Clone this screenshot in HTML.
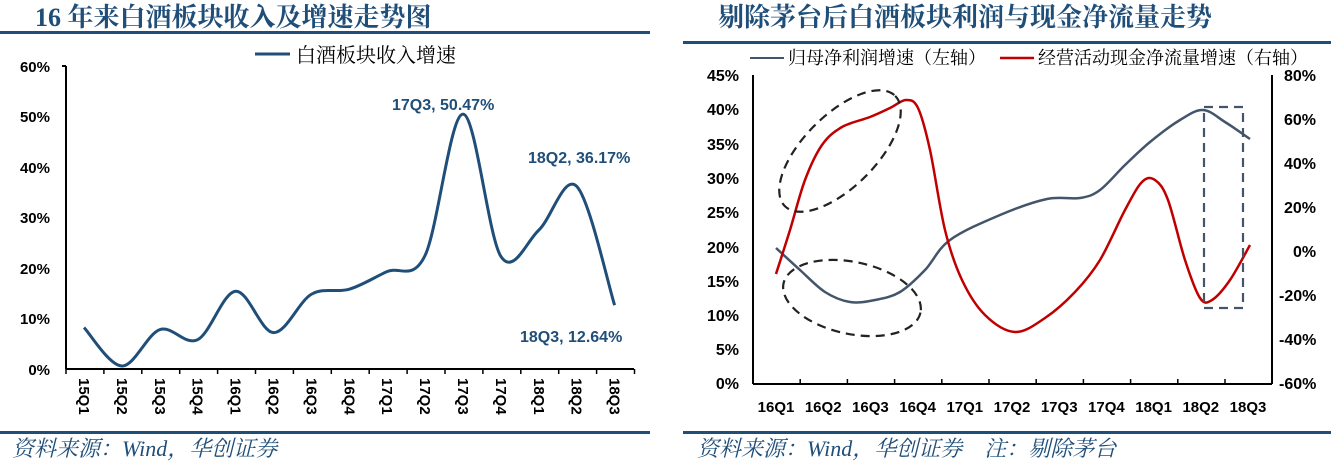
<!DOCTYPE html>
<html><head><meta charset="utf-8"><style>
body{margin:0;background:#fff;width:1331px;height:464px;overflow:hidden}
svg{display:block}
</style></head><body>
<svg width="1331" height="464" xmlns="http://www.w3.org/2000/svg" font-family="Liberation Sans, Noto Sans CJK SC, sans-serif">
<!-- LEFT -->
<text x="35" y="26" font-family="Liberation Serif, Noto Serif CJK SC, serif" font-weight="bold" font-size="26" fill="#1f4e79">16 年来白酒板块收入及增速走势图</text>
<rect x="0" y="31" width="650" height="3" fill="#1f4e79"/>
<line x1="255" y1="54" x2="290" y2="54" stroke="#1f4e79" stroke-width="3"/>
<text x="296" y="62" font-size="20" font-family="Noto Serif CJK SC, serif" fill="#000">白酒板块收入增速</text>
<g font-size="15" font-weight="bold" text-anchor="end">
<text x="50" y="72">60%</text><text x="50" y="122">50%</text><text x="50" y="173">40%</text><text x="50" y="223">30%</text><text x="50" y="274">20%</text><text x="50" y="324">10%</text><text x="50" y="375">0%</text>
</g>
<line x1="66" y1="66" x2="66" y2="369" stroke="#000" stroke-width="2"/>
<line x1="62" y1="66" x2="66" y2="66" stroke="#000" stroke-width="2"/>
<line x1="66" y1="369" x2="634" y2="369" stroke="#000" stroke-width="2"/>
<g id="lt" stroke="#000" stroke-width="1.5"></g>
<g id="lx" font-size="15" font-weight="bold"></g>
<path id="lp" fill="none" stroke="#1f4e79" stroke-width="3"/>
<g font-size="16" font-weight="bold" fill="#1f4e79">
<text x="392" y="110">17Q3, 50.47%</text>
<text x="528" y="163">18Q2, 36.17%</text>
<text x="520" y="342">18Q3, 12.64%</text>
</g>
<rect x="0" y="431" width="650" height="3" fill="#1f4e79"/>
<text x="12" y="456" font-family="Liberation Serif, Noto Serif CJK SC, serif" font-style="italic" font-size="22" fill="#1f4e79">资料来源：Wind，华创证券</text>

<!-- RIGHT -->
<text x="718" y="26" font-family="Liberation Serif, Noto Serif CJK SC, serif" font-weight="bold" font-size="26" fill="#1f4e79">剔除茅台后白酒板块利润与现金净流量走势</text>
<rect x="683" y="41" width="648" height="3" fill="#1f4e79"/>
<line x1="750" y1="58" x2="784" y2="58" stroke="#44546a" stroke-width="2"/>
<text x="788" y="64" font-size="18" font-family="Noto Serif CJK SC, serif">归母净利润增速（左轴）</text>
<line x1="1000" y1="58" x2="1034" y2="58" stroke="#c00000" stroke-width="2.5"/>
<text x="1038" y="64" font-size="18" font-family="Noto Serif CJK SC, serif">经营活动现金净流量增速（右轴）</text>
<g font-size="16" font-weight="bold" text-anchor="end">
<text x="739" y="81">45%</text><text x="739" y="115">40%</text><text x="739" y="150">35%</text><text x="739" y="184">30%</text><text x="739" y="218">25%</text><text x="739" y="253">20%</text><text x="739" y="287">15%</text><text x="739" y="321">10%</text><text x="739" y="355">5%</text><text x="739" y="389">0%</text>
</g>
<g font-size="16" font-weight="bold">
<text x="1284" y="81">80%</text><text x="1284" y="125">60%</text><text x="1284" y="169">40%</text><text x="1284" y="213">20%</text><text x="1293" y="257">0%</text><text x="1279" y="301">-20%</text><text x="1279" y="345">-40%</text><text x="1279" y="389">-60%</text>
</g>
<line x1="753" y1="75" x2="753" y2="384" stroke="#000" stroke-width="2"/>
<line x1="1272" y1="75" x2="1272" y2="384" stroke="#000" stroke-width="2"/>
<line x1="753" y1="384" x2="1272" y2="384" stroke="#000" stroke-width="2"/>
<g id="rt" stroke="#000" stroke-width="1.5"></g>
<g id="rx" font-size="15" font-weight="bold" text-anchor="middle"></g>
<path id="gp" fill="none" stroke="#44546a" stroke-width="2.5"/>
<path id="rp" fill="none" stroke="#c00000" stroke-width="2.5"/>
<g fill="none" stroke="#222" stroke-width="2.2" stroke-dasharray="9,6">
<ellipse cx="840" cy="151" rx="78" ry="36" transform="rotate(-45 840 151)"/>
<ellipse cx="852" cy="298" rx="70" ry="36" transform="rotate(12 852 298)"/>
<rect x="1204" y="107" width="39" height="201" stroke="#44546a"/>
</g>
<rect x="683" y="431" width="648" height="3" fill="#1f4e79"/>
<text x="697" y="456" font-family="Liberation Serif, Noto Serif CJK SC, serif" font-style="italic" font-size="22" fill="#1f4e79">资料来源：Wind，华创证券　注：剔除茅台</text>
</svg>
<script>
function cr(p){let d="M"+p[0][0]+","+p[0][1];for(let i=0;i<p.length-1;i++){const a=p[i-1]||p[i],b=p[i],c=p[i+1],e=p[i+2]||c;d+=" C"+(b[0]+(c[0]-a[0])/6)+","+(b[1]+(c[1]-a[1])/6)+" "+(c[0]-(e[0]-b[0])/6)+","+(c[1]-(e[1]-b[1])/6)+" "+c[0]+","+c[1];}return d;}
const NS="http://www.w3.org/2000/svg";
function el(t,a,txt,par){const e=document.createElementNS(NS,t);for(const k in a)e.setAttribute(k,a[k]);if(txt)e.textContent=txt;document.getElementById(par).appendChild(e);}
const lc=["15Q1","15Q2","15Q3","15Q4","16Q1","16Q2","16Q3","16Q4","17Q1","17Q2","17Q3","17Q4","18Q1","18Q2","18Q3"];
const sp=37.9;
for(let i=0;i<=15;i++){const x=66+i*sp;el("line",{x1:x,y1:369,x2:x,y2:374},"","lt");}
lc.forEach((c,i)=>{const x=84+i*sp;el("text",{x:x-5,y:378,transform:"rotate(90 "+(x-5)+" 378)"},c,"lx");});
const lv=[8.2,0.6,7.8,5.8,15.4,7.2,14.8,15.8,19.3,22.5,50.47,22.3,27.5,36.17,12.64];
document.getElementById("lp").setAttribute("d",cr(lv.map((v,i)=>[84+i*sp,369-v*5.05])));
const rc=["16Q1","16Q2","16Q3","16Q4","17Q1","17Q2","17Q3","17Q4","18Q1","18Q2","18Q3"];
const rs=47.2;
for(let i=1;i<11;i++){const x=753+i*rs;el("line",{x1:x,y1:384,x2:x,y2:379},"","rt");}
rc.forEach((c,i)=>{el("text",{x:776+i*rs,y:412},c,"rx");});
const g=[[776,248],[800,270],[825,292],[850,302],[875,300],[900,292],[925,270],[950,240],[1000,215],[1047,199],[1080,198],[1100,190],[1125,165],[1150,142],[1180,120],[1203,110],[1225,122],[1250,139]];
document.getElementById("gp").setAttribute("d",cr(g));
const r=[[776,274],[790,230],[805,180],[822,145],[842,127],[870,117],[890,108],[906,100],[918,108],[930,150],[945,230],[962,280],[985,315],[1015,332],[1045,318],[1075,292],[1100,260],[1125,210],[1142,182],[1155,180],[1168,200],[1185,260],[1200,298],[1212,300],[1230,280],[1250,245]];
document.getElementById("rp").setAttribute("d",cr(r));
</script>
</body></html>
